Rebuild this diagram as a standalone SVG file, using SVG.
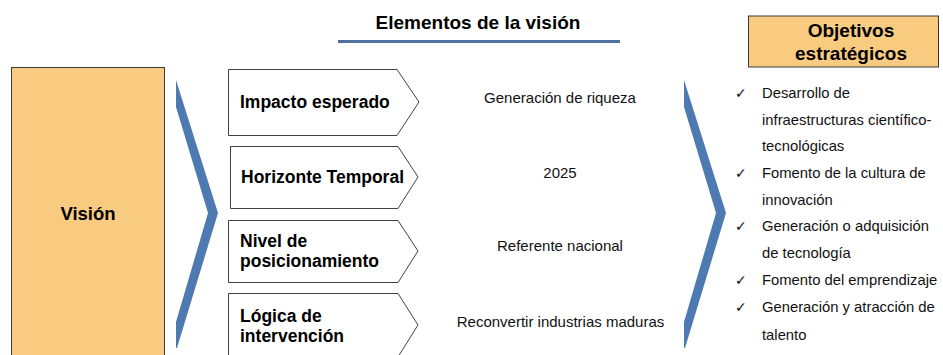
<svg xmlns="http://www.w3.org/2000/svg" width="943" height="355" viewBox="0 0 943 355">
<style>
.bold{font-family:"Liberation Sans",Arial,sans-serif;font-weight:bold;fill:#000}
.reg{font-family:"Liberation Sans",Arial,sans-serif;fill:#111}
.orange{fill:#F9CB80;stroke:#3a3a3a;stroke-width:1}
.penta{fill:#fff;stroke:#404040;stroke-width:1}
.chev{fill:#4E7AB2}
.chk{font-family:"DejaVu Sans",sans-serif;font-size:14px;fill:#111}
</style>
<rect width="943" height="355" fill="#fff"/>
<g id="title">
<text class="bold" x="478" y="29" font-size="19" text-anchor="middle">Elementos de la visión</text>
<line x1="338" y1="41.5" x2="620" y2="41.5" stroke="#4E72A0" stroke-width="3"/>
</g>
<g id="vision">
<rect class="orange" x="11.5" y="67.5" width="153" height="300"/>
<text class="bold" x="88" y="220" font-size="18.5" text-anchor="middle">Visión</text>
</g>
<g id="connectors">
<polygon class="chev" points="176,80 218,213 177,348 176,348 176,322 208,213 176,107"/>
<polygon class="chev" points="684,80 726,213 685,348 684,348 684,322 716,213 684,107"/>
</g>
<g id="impacto">
<polygon class="penta" points="228.5,69.5 397,69.5 419,102 397,135.5 228.5,135.5"/>
<text class="bold" x="240" y="108" font-size="17.5">Impacto esperado</text>
<text class="reg" x="560" y="103" font-size="15" text-anchor="middle">Generación de riqueza</text>
</g>
<g id="horizonte">
<polygon class="penta" points="230.5,146.5 398,146.5 418,177 398,208.5 230.5,208.5"/>
<text class="bold" x="241" y="183" font-size="17.5">Horizonte Temporal</text>
<text class="reg" x="560" y="178" font-size="15" text-anchor="middle">2025</text>
</g>
<g id="nivel">
<polygon class="penta" points="228.5,220.5 398,220.5 418,251 398,282.5 228.5,282.5"/>
<text class="bold" x="240" y="247" font-size="17.5">Nivel de</text>
<text class="bold" x="240" y="267" font-size="17.5">posicionamiento</text>
<text class="reg" x="560" y="251" font-size="15" text-anchor="middle">Referente nacional</text>
</g>
<g id="logica">
<polygon class="penta" points="228.5,293.5 398,293.5 418,325 398,357 228.5,357"/>
<text class="bold" x="240" y="322" font-size="17.5">Lógica de</text>
<text class="bold" x="240" y="342" font-size="17.5">intervención</text>
<text class="reg" x="560.5" y="327" font-size="15" text-anchor="middle">Reconvertir industrias maduras</text>
</g>
<g id="objetivos">
<rect class="orange" x="748.5" y="16" width="190" height="51"/>
<text class="bold" x="851" y="37" font-size="19" text-anchor="middle">Objetivos</text>
<text class="bold" x="851" y="60" font-size="19" text-anchor="middle">estratégicos</text>
</g>
<g id="lista">
<text class="chk" x="735" y="98">✓</text>
<text class="reg" x="762" y="98" font-size="14.8">Desarrollo de</text>
<text class="reg" x="762" y="125" font-size="14.8">infraestructuras científico-</text>
<text class="reg" x="762" y="151" font-size="14.8">tecnológicas</text>
<text class="chk" x="735" y="178">✓</text>
<text class="reg" x="762" y="178" font-size="14.8">Fomento de la cultura de</text>
<text class="reg" x="762" y="205" font-size="14.8">innovación</text>
<text class="chk" x="735" y="231">✓</text>
<text class="reg" x="762" y="231" font-size="14.8">Generación o adquisición</text>
<text class="reg" x="762" y="258" font-size="14.8">de tecnología</text>
<text class="chk" x="735" y="285">✓</text>
<text class="reg" x="762" y="285" font-size="14.8">Fomento del emprendizaje</text>
<text class="chk" x="735" y="312">✓</text>
<text class="reg" x="762" y="312" font-size="14.8">Generación y atracción de</text>
<text class="reg" x="762" y="340" font-size="14.8">talento</text>
</g>
</svg>
